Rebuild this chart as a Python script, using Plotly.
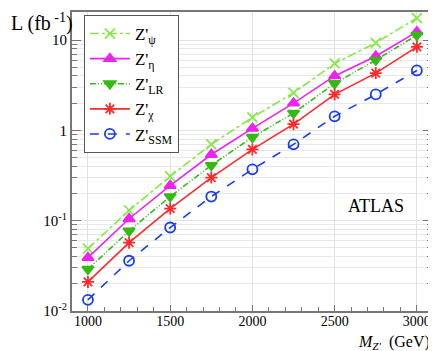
import plotly.graph_objects as go

# Z' masses (GeV) and luminosity needed (fb^-1)
mass = [1000, 1250, 1500, 1750, 2000, 2250, 2500, 2750, 3000]

lum_psi = [0.049, 0.13, 0.31, 0.70, 1.39, 2.6, 5.5, 9.3, 17.5]
lum_eta = [0.039, 0.105, 0.245, 0.54, 1.05, 2.0, 4.0, 6.6, 12.3]
lum_lr = [0.029, 0.077, 0.185, 0.41, 0.84, 1.55, 3.3, 6.0, 11.3]
lum_chi = [0.021, 0.057, 0.136, 0.30, 0.615, 1.17, 2.5, 4.3, 8.4]
lum_ssm = [0.0133, 0.036, 0.084, 0.185, 0.37, 0.70, 1.43, 2.5, 4.6]

y_ticks = [0.01, 0.1, 1, 10]
y_labels = ["10<sup>-2</sup>", "10<sup>-1</sup>", "1", "10"]
x_ticks = [1000, 1500, 2000, 2500, 3000]

serif = "Liberation Serif"

fig = go.Figure()

# one trace per model: (name, values, colour, dash, symbol)
series = [
    ("Z'<sub>ψ</sub>", lum_psi, "#88e848", "dashdot", "x-thin-open"),
    ("Z'<sub>η</sub>", lum_eta, "#ee22ee", "solid", "triangle-up"),
    ("Z'<sub>LR</sub>", lum_lr, "#33bb11", "6px,2px,1px,2px,1px,2px", "triangle-down"),
    ("Z'<sub>χ</sub>", lum_chi, "#ff2a2a", "solid", "asterisk-open"),
    ("Z'<sub>SSM</sub>", lum_ssm, "#1a3cf0", "dash", "circle-open"),
]
for name, vals, col, dash, sym in series:
    fig.add_trace(go.Scatter(
        x=mass, y=vals, name=name, mode="lines+markers",
        line=dict(color=col, width=1.6, dash=dash),
        marker=dict(symbol=sym, size=10, color=col, line=dict(color=col, width=1.8)),
    ))

fig.update_xaxes(
    range=[903, 3092], tickvals=x_ticks, ticks="inside", ticklen=6,
    ticklabelstandoff=-4,
    showgrid=True, gridcolor="#dde3e6", gridwidth=1,
    minor=dict(dtick=100, ticks="inside", ticklen=4, tickcolor="#777", showgrid=False),
    showline=True, linecolor="#777", linewidth=2, mirror=True, tickcolor="#777",
    tickfont=dict(family=serif, size=14, color="black"), zeroline=False,
)
minor_vals = [m * 10 ** e for e in range(-2, 2) for m in range(2, 10)]
fig.update_yaxes(
    type="log", range=[-2, 1.31], tickvals=y_ticks, ticktext=y_labels,
    ticks="inside", ticklen=9, tickcolor="#777",
    showgrid=True, gridcolor="#dde3e6", gridwidth=1,
    minor=dict(tickvals=minor_vals, ticks="inside", ticklen=5, tickcolor="#777",
               showgrid=True, gridcolor="#e6e8ea", gridwidth=1),
    showline=True, linecolor="#777", linewidth=2, mirror="ticks",
    tickfont=dict(family=serif, size=15, color="black"), zeroline=False,
)

fig.add_annotation(text="L (fb<sup> -1</sup>)", xref="paper", yref="paper",
                   x=-0.176, y=1.013, xanchor="left", yanchor="top", showarrow=False,
                   font=dict(family=serif, size=20, color="black"))
fig.add_annotation(text="<i>M</i><sub><i>Z'</i></sub>  (GeV)", xref="paper", yref="paper",
                   x=1.0, y=-0.066, xanchor="right", yanchor="top", showarrow=False,
                   font=dict(family=serif, size=16, color="black"))
fig.add_annotation(text="ATLAS", xref="paper", yref="paper",
                   x=0.845, y=0.35, xanchor="center", yanchor="middle", showarrow=False,
                   font=dict(family=serif, size=18, color="black"))

# page body has an 8px margin, so the figure is 8px smaller each way
fig.update_layout(
    width=428, height=343,
    margin=dict(l=64, r=2, t=4, b=40),
    plot_bgcolor="white", paper_bgcolor="white",
    legend=dict(x=0.033, y=0.99, xanchor="left", yanchor="top",
                bgcolor="white", bordercolor="#555", borderwidth=1,
                font=dict(family=serif, size=17, color="black"),
                tracegroupgap=0, itemwidth=40),
)

fig.write_html("out.html")
